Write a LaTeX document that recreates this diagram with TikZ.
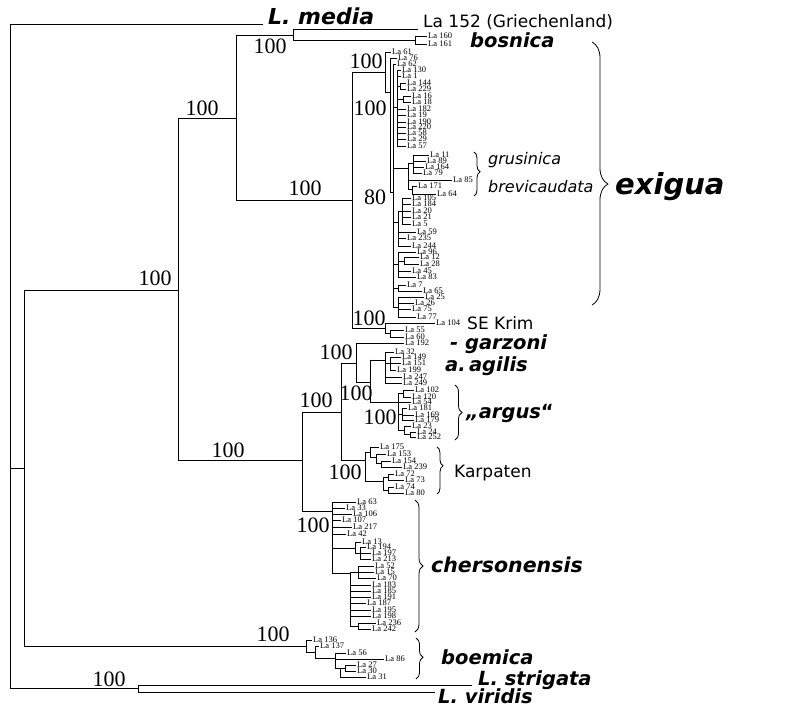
\documentclass[tikz,border=0pt]{standalone}
\usepackage{fontspec}
\setmainfont{Liberation Serif}
\newfontfamily\labfont{DejaVu Sans}
\usetikzlibrary{decorations.pathreplacing}
\tikzset{
  tree/.style={line width=0.9pt, line cap=rect},
  leaflab/.style={font=\fontsize{8.5}{8.5}\selectfont, inner sep=0pt, anchor=west},
  boot/.style={font=\fontsize{22}{22}\selectfont, inner sep=0pt},
  taxon/.style={font=\labfont\bfseries\itshape\fontsize{19.5}{19.5}\selectfont, inner sep=0pt, anchor=base west},
  plainlab/.style={font=\labfont\fontsize{17}{17}\selectfont, inner sep=0pt, anchor=base west},
  brc/.style={decorate, line width=0.8pt}
}
\newcommand\Hl[3]{\draw[tree] (#2,#1) -- (#3,#1);}
\newcommand\Vl[3]{\draw[tree] (#1,#2) -- (#1,#3);}
\newcommand\Lf[4]{\draw[tree] (#1,#3) -- (#2-1.5,#3); \node[leaflab] at (#2,#3) {#4};}
\begin{document}
\begin{tikzpicture}[x=1pt,y=-1pt]
\useasboundingbox (0,0) rectangle (790,708);
% root
\Vl{10}{24}{688}
\Hl{24}{10}{263}
\node[taxon, font=\labfont\bfseries\itshape\fontsize{22}{22}\selectfont] (media) at (268,25) {L. media};
\Hl{468}{10}{24}
\Hl{688}{10}{138}
\node[boot] (b0) at (109,679) {100};
% outgroup
\Vl{138}{685}{692}
\Hl{685}{138}{472}
\Hl{692}{138}{435}
\node[taxon] (strig) at (478,685) {L. strigata};
\node[taxon] (virid) at (438,703) {L. viridis};
% node 24
\Vl{24}{290}{646}
\Hl{290}{24}{178}
\Hl{646}{24}{306}
\node[boot] (b1) at (155,278) {100};
\node[boot] (b2) at (273,634) {100};
% node 178
\Vl{178}{118}{460}
\Hl{118}{178}{236}
\Hl{460}{178}{302}
\node[boot] (b3) at (202,108) {100};
\node[boot] (b4) at (228,450) {100};
% node 236
\Vl{236}{35}{200}
\Hl{35}{236}{293}
\Hl{200}{236}{352}
\node[boot] (b5) at (270,46) {100};
\node[boot] (b6) at (305,188) {100};
% bosnica
\Vl{293}{29}{40}
\Hl{29}{293}{418}
\Hl{40}{293}{415}
\node[plainlab] (gr) at (423,28) {La 152 (Griechenland)};
\Vl{415}{36}{44}
\Lf{415}{428}{36}{La 160}
\Lf{415}{428}{44}{La 161}
\node[taxon] (bosn) at (470,48) {bosnica};
% exigua
\Vl{352}{72}{328}
\Hl{72}{352}{385}
\Hl{328}{352}{385}
\node[boot] (b7) at (366,61) {100};
\Vl{385}{52}{92}
\Lf{385}{392}{52}{La 61}
\Hl{92}{385}{390}
\node[boot] (b8) at (370,108) {100};
\Vl{390}{58}{192}
\Lf{390}{398}{58}{La 76}
\Hl{192}{390}{393}
\node[boot] (b9) at (375,197) {80};
\Vl{393}{64}{307}
\Lf{393}{397}{64}{La 62}
\Hl{107}{393}{397}
\Vl{397}{70}{146}
\Lf{397}{402}{70}{La 130}
\Lf{397}{402}{76}{La 1}
\Hl{86}{397}{400}
\Vl{400}{83}{89}
\Lf{400}{407}{83}{La 144}
\Lf{400}{407}{89}{La 229}
\Hl{99}{397}{403}
\Vl{403}{96}{102}
\Lf{403}{412}{96}{La 16}
\Lf{403}{412}{102}{La 18}
\Lf{397}{407}{109}{La 182}
\Lf{397}{407}{115}{La 19}
\Lf{397}{407}{122}{La 190}
\Lf{397}{407}{127}{La 220}
\Lf{397}{407}{133}{La 58}
\Lf{397}{407}{139}{La 29}
\Lf{397}{407}{146}{La 57}
\Hl{168}{393}{408}
\Vl{408}{163}{189}
\Hl{163}{408}{413}
\Vl{413}{155}{173}
\Lf{413}{430}{155}{La 11}
\Lf{413}{427}{161}{La 89}
\Lf{413}{425}{167}{La 164}
\Lf{413}{423}{173}{La 79}
\Lf{408}{453}{180}{La 85}
\Hl{189}{408}{412}
\Vl{412}{186}{194}
\Lf{412}{418}{186}{La 171}
\Lf{412}{437}{194}{La 64}
\Hl{222}{393}{398}
\Vl{398}{211}{246}
\Hl{211}{398}{402}
\Vl{402}{198}{224}
\Lf{402}{412}{198}{La 105}
\Lf{402}{412}{204}{La 184}
\Lf{402}{412}{211}{La 20}
\Lf{402}{412}{217}{La 21}
\Lf{402}{412}{224}{La 5}
\Lf{398}{417}{232}{La 59}
\Lf{398}{407}{238}{La 235}
\Lf{398}{412}{246}{La 244}
\Hl{264}{393}{398}
\Vl{398}{252}{277}
\Lf{398}{417}{252}{La 96}
\Hl{261}{398}{404}
\Vl{404}{257}{264}
\Lf{404}{420}{257}{La 12}
\Lf{404}{420}{264}{La 28}
\Lf{398}{412}{271}{La 45}
\Lf{398}{417}{277}{La 83}
\Hl{288}{393}{398}
\Vl{398}{285}{291}
\Lf{398}{407}{285}{La 7}
\Lf{398}{423}{291}{La 65}
\Hl{307}{393}{398}
\Vl{398}{297}{317}
\Lf{398}{425}{297}{La 25}
\Lf{398}{415}{303}{La 26}
\Lf{398}{412}{309}{La 75}
\Lf{398}{417}{317}{La 77}
\node[plainlab, font=\labfont\itshape\fontsize{16}{16}\selectfont] (grus) at (488,165) {grusinica};
\node[plainlab, font=\labfont\itshape\fontsize{16}{16}\selectfont] (brev) at (488,193) {brevicaudata};
\draw[brc, decoration={brace, amplitude=6pt, aspect=0.45}] (474,152) -- (474,196);
\draw[brc, decoration={brace, amplitude=16pt, aspect=0.54}] (592,42) -- (592,305);
\node[taxon, font=\labfont\bfseries\itshape\fontsize{29}{29}\selectfont] (exig) at (615,195) {exigua};
% SE Krim
\node[boot] (b10) at (369,318) {100};
\Vl{385}{323}{333}
\Lf{385}{436}{323}{La 104}
\Hl{333}{385}{390}
\Vl{390}{330}{337}
\Lf{390}{405}{330}{La 55}
\Lf{390}{405}{337}{La 60}
\node[plainlab] (krim) at (467,330) {SE Krim};
% agilis group
\Vl{302}{412}{511}
\Hl{412}{302}{341}
\Hl{511}{302}{332}
\node[boot] (b11) at (316,400) {100};
\Vl{341}{363}{460}
\Hl{363}{341}{356}
\Hl{460}{341}{365}
\node[boot] (b12) at (336,352) {100};
\Vl{356}{343}{382}
\Lf{356}{405}{343}{La 192}
\node[taxon] (garz) at (450,350) {- garzoni};
\Hl{382}{356}{370}
\node[boot] (b13) at (356,393) {100};
\Vl{370}{360}{402}
\Hl{360}{370}{385}
\Hl{402}{370}{398}
\Vl{385}{352}{383}
\Lf{385}{395}{352}{La 32}
\Hl{363}{385}{390}
\Vl{390}{357}{370}
\Lf{390}{402}{357}{La 149}
\Lf{390}{402}{363}{La 151}
\Lf{390}{397}{370}{La 199}
\Lf{385}{403}{377}{La 247}
\Lf{385}{403}{383}{La 249}
\node[taxon] (agil) at (445,372) {a.\,agilis};
\node[boot] (b14) at (380,417) {100};
\Vl{398}{393}{430}
\Hl{393}{398}{403}
\Vl{403}{390}{397}
\Lf{403}{415}{390}{La 102}
\Lf{403}{412}{397}{La 120}
\Lf{398}{412}{402}{La 54}
\Hl{414}{398}{402}
\Vl{402}{408}{420}
\Lf{402}{408}{408}{La 181}
\Lf{402}{415}{415}{La 169}
\Lf{402}{415}{420}{La 179}
\Hl{430}{398}{404}
\Vl{404}{426}{434}
\Lf{404}{412}{426}{La 23}
\Hl{434}{404}{410}
\Vl{410}{432}{437}
\Lf{410}{417}{432}{La 24}
\Lf{410}{417}{437}{La 252}
\draw[brc, decoration={brace, amplitude=7pt, aspect=0.5}] (455,385) -- (455,440);
\node[taxon] (argus) at (466,419) {„argus\textup{“}};
% Karpaten
\node[boot] (b15) at (345,472) {100};
\Vl{365}{452}{481}
\Hl{452}{365}{370}
\Vl{370}{447}{457}
\Lf{370}{380}{447}{La 175}
\Hl{457}{370}{376}
\Vl{376}{454}{463}
\Lf{376}{387}{454}{La 153}
\Hl{463}{376}{381}
\Vl{381}{461}{467}
\Lf{381}{392}{461}{La 154}
\Lf{381}{403}{467}{La 239}
\Hl{481}{365}{383}
\Vl{383}{477}{490}
\Hl{477}{383}{388}
\Vl{388}{474}{480}
\Lf{388}{395}{474}{La 72}
\Lf{388}{405}{480}{La 73}
\Hl{490}{383}{388}
\Vl{388}{487}{493}
\Lf{388}{395}{487}{La 74}
\Lf{388}{405}{493}{La 80}
\draw[brc, decoration={brace, amplitude=6pt, aspect=0.4}] (437,447) -- (437,494);
\node[plainlab] (karp) at (454,477) {Karpaten};
% chersonensis
\node[boot] (b16) at (313,525) {100};
\Vl{332}{502}{573}
\Lf{332}{357}{502}{La 63}
\Lf{332}{346}{508}{La 33}
\Lf{332}{353}{514}{La 106}
\Lf{332}{342}{520}{La 107}
\Lf{332}{353}{527}{La 217}
\Lf{332}{347}{534}{La 42}
\Hl{548}{332}{355}
\Vl{355}{542}{553}
\Lf{355}{362}{542}{La 13}
\Hl{553}{355}{360}
\Vl{360}{547}{559}
\Lf{360}{367}{547}{La 194}
\Lf{360}{372}{553}{La 197}
\Lf{360}{372}{559}{La 213}
\Hl{573}{332}{350}
\Vl{350}{572}{626}
\Hl{572}{350}{358}
\Vl{358}{566}{578}
\Lf{358}{375}{566}{La 52}
\Lf{358}{375}{572}{La 15}
\Lf{358}{377}{578}{La 70}
\Lf{350}{372}{585}{La 183}
\Lf{350}{372}{591}{La 185}
\Lf{350}{372}{597}{La 191}
\Lf{350}{367}{603}{La 187}
\Lf{350}{372}{610}{La 195}
\Lf{350}{372}{616}{La 198}
\Hl{626}{350}{358}
\Vl{358}{623}{629}
\Lf{358}{377}{623}{La 236}
\Lf{358}{372}{629}{La 242}
\draw[brc, decoration={brace, amplitude=8pt, aspect=0.5}] (415,500) -- (415,632);
\node[taxon, font=\labfont\bfseries\itshape\fontsize{20.5}{20.5}\selectfont] (chers) at (431,572) {chersonensis};
% boemica
\Vl{306}{640}{652}
\Lf{306}{313}{640}{La 136}
\Hl{652}{306}{315}
\Vl{315}{646}{658}
\Lf{315}{320}{646}{La 137}
\Hl{658}{315}{335}
\Vl{335}{653}{668}
\Lf{335}{347}{653}{La 56}
\Lf{335}{385}{659}{La 86}
\Hl{668}{335}{340}
\Vl{340}{668}{677}
\Hl{668}{340}{345}
\Vl{345}{665}{671}
\Lf{345}{357}{665}{La 27}
\Lf{345}{357}{671}{La 30}
\Lf{340}{367}{677}{La 31}
\draw[brc, decoration={brace, amplitude=7pt, aspect=0.47}] (416,638) -- (416,679);
\node[taxon] (boem) at (441,664) {boemica};
\end{tikzpicture}
\end{document}
